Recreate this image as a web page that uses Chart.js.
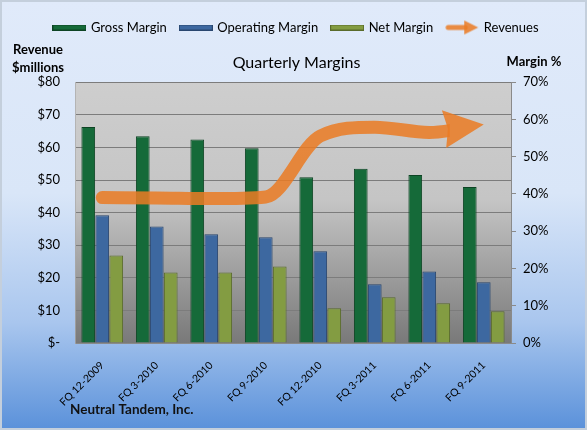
<!DOCTYPE html>
<html>
<head>
<meta charset="utf-8">
<title>Quarterly Margins</title>
<script src="https://cdn.jsdelivr.net/npm/chart.js@4/dist/chart.umd.min.js"></script>
<style>
    html, body { margin: 0; padding: 0; background: #ffffff; }
    #wrap { position: relative; width: 587px; height: 430px; }
</style>
</head>
<body>
<div id="wrap"><canvas id="marginsChart" width="587" height="430"></canvas></div>
<script>
// ===== Quarterly margins data =====
const quarters = ['FQ 12-2009', 'FQ 3-2010', 'FQ 6-2010', 'FQ 9-2010', 'FQ 12-2010', 'FQ 3-2011', 'FQ 6-2011', 'FQ 9-2011'];
const grossMargin = [58.0, 55.5, 54.6, 52.3, 44.5, 46.8, 45.1, 41.9];
const operatingMargin = [34.3, 31.3, 29.2, 28.4, 24.6, 15.8, 19.2, 16.3];
const netMargin = [23.5, 18.9, 18.9, 20.5, 9.3, 12.3, 10.7, 8.5];
const revenues = [44.6, 44.5, 44.3, 44.8, 63.5, 66.2, 64.6, 67.0];

const revenueTicks = [0, 10, 20, 30, 40, 50, 60, 70, 80];
const marginTicks = [0, 10, 20, 30, 40, 50, 60, 70];

const FONT = 'Lato, "Open Sans", sans-serif';
const ARROW = 'rgba(234, 124, 36, 0.86)';

const colors = {
    gross: { fill: '#156a39', border: '#0d4424' },
    operating: { fill: '#3d68a0', border: '#29466f' },
    net: { fill: '#839c42', border: '#596b2b' }
};

// legend icons
function swatch(fill, border) {
    const c = document.createElement('canvas');
    c.width = 34; c.height = 6;
    const g = c.getContext('2d');
    g.fillStyle = fill;
    g.fillRect(0, 0, 34, 6);
    g.strokeStyle = border;
    g.strokeRect(0.5, 0.5, 33, 5);
    return c;
}

function arrowIcon() {
    const c = document.createElement('canvas');
    c.width = 34; c.height = 16;
    const g = c.getContext('2d');
    g.fillStyle = ARROW;
    g.strokeStyle = ARROW;
    g.lineWidth = 5;
    g.lineCap = 'round';
    g.beginPath(); g.moveTo(3, 8); g.lineTo(20, 8); g.stroke();
    g.beginPath(); g.moveTo(19, 1); g.lineTo(33, 8); g.lineTo(19, 15); g.closePath(); g.fill();
    return c;
}

const legendIcons = [
    swatch(colors.gross.fill, colors.gross.border),
    swatch(colors.operating.fill, colors.operating.border),
    swatch(colors.net.fill, colors.net.border),
    arrowIcon()
];

// backgrounds + extra labels
const decorPlugin = {
    id: 'decor',
    beforeDraw(chart) {
        const { ctx, width, height, chartArea } = chart;
        ctx.save();
        const bg = ctx.createLinearGradient(0, 0, 0, height);
        bg.addColorStop(0, '#e0eafa');
        bg.addColorStop(0.45, '#d9e6f8');
        bg.addColorStop(0.75, '#a9c6ee');
        bg.addColorStop(1, '#5a91da');
        ctx.fillStyle = bg;
        ctx.fillRect(0, 0, width, height);
        ctx.strokeStyle = '#c4cfdc';
        ctx.lineWidth = 2;
        ctx.strokeRect(1, 1, width - 2, height - 2);

        const pg = ctx.createLinearGradient(0, chartArea.top, 0, chartArea.bottom);
        pg.addColorStop(0, '#cecece');
        pg.addColorStop(0.45, '#c5c5c5');
        pg.addColorStop(1, '#797979');
        ctx.fillStyle = pg;
        ctx.fillRect(chartArea.left, chartArea.top, chartArea.right - chartArea.left, chartArea.bottom - chartArea.top);
        ctx.restore();
    },
    afterDraw(chart) {
        const { ctx } = chart;
        ctx.save();
        ctx.fillStyle = '#000';
        ctx.textBaseline = 'middle';
        ctx.font = 'bold 13px ' + FONT;
        ctx.textAlign = 'center';
        ctx.fillText('Revenue', 38, 50);
        ctx.fillText('$millions', 38, 68);
        ctx.fillText('Margin %', 534, 62);
        ctx.textAlign = 'left';
        ctx.font = 'bold 13.5px ' + FONT;
        ctx.fillStyle = '#111';
        ctx.fillText('Neutral Tandem, Inc.', 70, 410);
        ctx.restore();
    }
};

// arrowhead at the end of the revenue line
const arrowPlugin = {
    id: 'arrowHead',
    beforeDatasetDraw(chart, args) {
        if (chart.data.datasets[args.index].type !== 'line') return;
        const pts = args.meta.data;
        const last = pts[pts.length - 1];
        chart.ctx.save();
        chart.ctx.beginPath();
        chart.ctx.rect(0, 0, last.x - 34, chart.height);
        chart.ctx.clip();
    },
    afterDatasetDraw(chart, args) {
        if (chart.data.datasets[args.index].type !== 'line') return;
        const ctx = chart.ctx;
        ctx.restore();
        const pts = args.meta.data;
        const last = pts[pts.length - 1];
        const prev = pts[pts.length - 2];
        const ang = Math.atan2(last.y - prev.y, last.x - prev.x) * 0.8;
        ctx.save();
        ctx.translate(last.x, last.y);
        ctx.rotate(ang);
        ctx.fillStyle = ARROW;
        ctx.beginPath();
        ctx.moveTo(0, 0);
        ctx.lineTo(-40, -19);
        ctx.lineTo(-36, 0);
        ctx.lineTo(-40, 19);
        ctx.closePath();
        ctx.fill();
        ctx.restore();
    }
};

function barSet(label, data, c) {
    return {
        type: 'bar',
        label: label,
        data: data,
        yAxisID: 'y1',
        backgroundColor: c.fill,
        borderColor: c.border,
        borderWidth: 1,
        categoryPercentage: 0.77,
        barPercentage: 0.98,
        order: 1
    };
}

new Chart(document.getElementById('marginsChart'), {
    data: {
        labels: quarters,
        datasets: [
            barSet('Gross Margin', grossMargin, colors.gross),
            barSet('Operating Margin', operatingMargin, colors.operating),
            barSet('Net Margin', netMargin, colors.net),
            {
                type: 'line',
                label: 'Revenues',
                data: revenues,
                yAxisID: 'y',
                borderColor: ARROW,
                borderWidth: 13,
                borderCapStyle: 'round',
                cubicInterpolationMode: 'monotone',
                pointRadius: 0,
                fill: false,
                order: 0
            }
        ]
    },
    options: {
        responsive: false,
        animation: false,
        layout: { padding: { top: 7, left: 6, right: 0, bottom: 0 } },
        plugins: {
            tooltip: { enabled: false },
            legend: {
                position: 'top',
                weight: 3000,
                labels: {
                    usePointStyle: true,
                    pointStyleWidth: 30,
                    boxHeight: 6,
                    padding: 14,
                    color: '#000',
                    font: { family: FONT, size: 13 },
                    generateLabels(chart) {
                        return chart.data.datasets.map((ds, i) => ({
                            text: ds.label,
                            datasetIndex: i,
                            pointStyle: legendIcons[i],
                            fillStyle: 'transparent',
                            strokeStyle: 'transparent',
                            lineWidth: 0,
                            hidden: false
                        }));
                    }
                }
            },
            title: {
                display: true,
                text: 'Quarterly Margins',
                color: '#000',
                weight: 2000,
                font: { family: FONT, size: 16, weight: 'normal' },
                padding: { top: 9, bottom: 10 }
            }
        },
        scales: {
            x: {
                grid: { display: false },
                border: { color: '#8a8a8a' },
                ticks: {
                    color: '#000',
                    font: { family: FONT, size: 10.5 },
                    maxRotation: 45,
                    minRotation: 45,
                    padding: 8
                },
                afterFit(scale) { scale.height = 87; }
            },
            y: {
                position: 'left',
                min: 0,
                max: 80,
                afterBuildTicks(scale) { scale.ticks = revenueTicks.map(v => ({ value: v })); },
                ticks: {
                    color: '#000',
                    font: { family: FONT, size: 13 },
                    padding: 15,
                    callback: v => v === 0 ? '$-' : '$' + v
                },
                grid: { color: '#7c7c7c', lineWidth: 1, drawTicks: false },
                border: { color: 'rgba(170,170,170,0.7)' },
                afterFit(scale) { scale.width = 69; }
            },
            y1: {
                position: 'right',
                min: 0,
                max: 70,
                afterBuildTicks(scale) { scale.ticks = marginTicks.map(v => ({ value: v })); },
                ticks: {
                    color: '#000',
                    font: { family: FONT, size: 13 },
                    padding: 7,
                    callback: v => v + '%'
                },
                grid: { drawOnChartArea: false, drawTicks: true, tickLength: 5, color: '#8a8a8a' },
                border: { color: '#8a8a8a' },
                afterFit(scale) { scale.width = 76; }
            }
        }
    },
    plugins: [decorPlugin, arrowPlugin]
});
</script>
</body>
</html>
